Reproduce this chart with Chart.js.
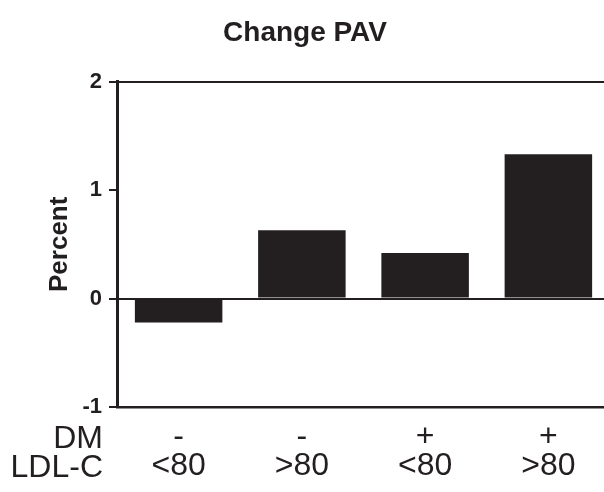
<!DOCTYPE html>
<html>
<head>
<meta charset="utf-8">
<script src="https://cdn.jsdelivr.net/npm/chart.js@4.4.1/dist/chart.umd.min.js"></script>
<style>
  html, body { margin: 0; padding: 0; background: #fff; overflow: hidden; }
  #wrap { width: 604px; height: 492px; overflow: hidden; }
</style>
</head>
<body>
<div id="wrap"><canvas id="myChart" width="614" height="492"></canvas></div>
<script>
const dmLabels = ['-', '-', '+', '+'];
const ldlLabels = ['<80', '>80', '<80', '>80'];
const rowNames = ['DM', 'LDL-C'];
const pavChange = [-0.22, 0.63, 0.42, 1.33];
const yTicks = [-1, 0, 1, 2];

const ink = '#231f20';
const labels = dmLabels.map((d, i) => [d, ldlLabels[i]]);

// row headers left of the x tick labels
const rowHeaders = {
  id: 'rowHeaders',
  afterDraw(chart) {
    const x = chart.scales.x;
    const c = chart.ctx;
    c.save();
    c.font = '32px "Liberation Sans", Arial, sans-serif';
    c.fillStyle = ink;
    c.textAlign = 'right';
    c.textBaseline = 'middle';
    const y0 = x.top + 32;
    rowNames.forEach((n, i) => c.fillText(n, chart.chartArea.left - 14, y0 + i * 29));
    c.restore();
  }
};

const config = {
  type: 'bar',
  data: {
    labels: labels,
    datasets: [{
      data: pavChange,
      backgroundColor: ink,
      borderWidth: 0,
      barPercentage: 0.71,
      categoryPercentage: 1
    }]
  },
  options: {
    responsive: false,
    animation: false,
    devicePixelRatio: 1,
    layout: { padding: { left: 0, right: 4, top: 0, bottom: 0 } },
    plugins: {
      legend: false,
      tooltip: false,
      title: {
        display: true,
        text: 'Change PAV',
        color: ink,
        font: { family: '"Liberation Sans", Arial, sans-serif', size: 28, weight: 'bold' },
        padding: { top: 16, bottom: 32 }
      }
    },
    scales: {
      x: {
        grid: { display: false, drawTicks: false },
        border: { display: true, color: ink, width: 2.5 },
        ticks: {
          color: ink,
          padding: 16,
          font: { family: '"Liberation Sans", Arial, sans-serif', size: 32, lineHeight: 0.9 }
        },
        afterFit(scale) { scale.height = 85; }
      },
      y: {
        min: yTicks[0],
        max: yTicks[yTicks.length - 1],
        afterBuildTicks(scale) { scale.ticks = yTicks.map(v => ({ value: v })); },
        grid: {
          color: ctx => (ctx.tick && ctx.tick.value !== 1) ? ink : 'rgba(0,0,0,0)',
          tickColor: ink,
          tickLength: 8,
          lineWidth: 2
        },
        border: { display: true, color: ink, width: 3 },
        ticks: {
          color: ink,
          padding: 7,
          font: { family: '"Liberation Sans", Arial, sans-serif', size: 22, weight: 'bold' }
        },
        title: {
          display: true,
          text: 'Percent',
          color: ink,
          font: { family: '"Liberation Sans", Arial, sans-serif', size: 26, weight: 'bold' },
          padding: { top: 44, bottom: 0 }
        },
        afterFit(scale) { scale.width = 117; }
      }
    }
  },
  plugins: [rowHeaders]
};

const ctx = document.getElementById('myChart');
new Chart(ctx, config);
</script>
</body>
</html>
